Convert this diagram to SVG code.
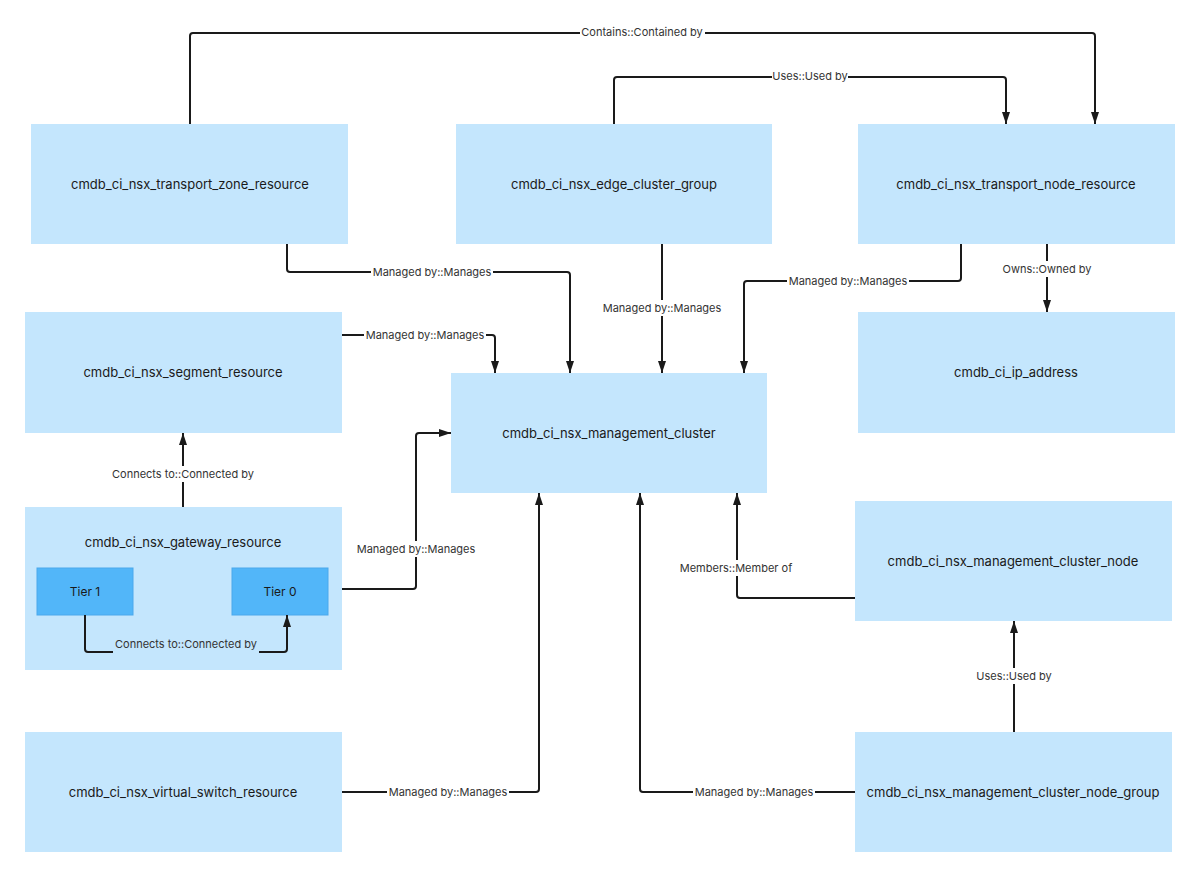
<svg xmlns="http://www.w3.org/2000/svg" width="1200" height="878" viewBox="0 0 1200 878">
<style>
.n{fill:#c4e6fd}
.t{fill:#52b6f9;stroke:#4aa8ec;stroke-width:1}
.nt{font-family:Inter,"Noto Sans",sans-serif;font-size:13px;fill:#1a1a1a;text-anchor:middle;dominant-baseline:central}
.c{fill:none;stroke:#1a1a1a;stroke-width:2;stroke-linejoin:round}
.lb{fill:#fff}
.lt{font-family:Inter,"Noto Sans",sans-serif;font-size:11px;fill:#333;text-anchor:middle;dominant-baseline:central}
</style>
<defs>
<marker id="a" viewBox="0 0 12 8" refX="12" refY="4" markerWidth="12" markerHeight="8" markerUnits="userSpaceOnUse" orient="auto"><path d="M0,0 L12,4 L0,8 z" fill="#1a1a1a"/></marker>
</defs>
<rect width="1200" height="878" fill="#fff"/>
<g id="n-transport-zone"><rect class="n" x="31" y="124" width="317" height="120"/><text class="nt" x="190" y="184">cmdb_ci_nsx_transport_zone_resource</text></g>
<g id="n-edge-cluster"><rect class="n" x="456" y="124" width="316" height="120"/><text class="nt" x="614" y="184">cmdb_ci_nsx_edge_cluster_group</text></g>
<g id="n-transport-node"><rect class="n" x="858" y="124" width="317" height="120"/><text class="nt" x="1016" y="184">cmdb_ci_nsx_transport_node_resource</text></g>
<g id="n-segment"><rect class="n" x="25" y="312" width="317" height="121"/><text class="nt" x="183" y="372">cmdb_ci_nsx_segment_resource</text></g>
<g id="n-mgmt-cluster"><rect class="n" x="451" y="373" width="316" height="120"/><text class="nt" x="609" y="433">cmdb_ci_nsx_management_cluster</text></g>
<g id="n-ip"><rect class="n" x="858" y="312" width="317" height="121"/><text class="nt" x="1016" y="372">cmdb_ci_ip_address</text></g>
<g id="n-gateway"><rect class="n" x="25" y="507" width="317" height="163"/><text class="nt" x="183" y="542">cmdb_ci_nsx_gateway_resource</text>
<g id="n-tier1"><rect class="t" x="37" y="568" width="96" height="47"/><text class="nt" x="85" y="591" style="font-size:12px">Tier 1</text></g>
<g id="n-tier0"><rect class="t" x="232" y="568" width="96" height="47"/><text class="nt" x="280" y="591" style="font-size:12px">Tier 0</text></g>
</g>
<g id="n-mgmt-node"><rect class="n" x="855" y="501" width="317" height="120"/><text class="nt" x="1013" y="561">cmdb_ci_nsx_management_cluster_node</text></g>
<g id="n-vswitch"><rect class="n" x="25" y="732" width="317" height="120"/><text class="nt" x="183" y="792">cmdb_ci_nsx_virtual_switch_resource</text></g>
<g id="n-mgmt-node-group"><rect class="n" x="855" y="732" width="317" height="120"/><text class="nt" x="1013" y="792">cmdb_ci_nsx_management_cluster_node_group</text></g>
<g id="connectors">
<path class="c" marker-end="url(#a)" d="M190,124 V36 Q190,33 193,33 H1092 Q1095,33 1095,36 V124"/>
<path class="c" marker-end="url(#a)" d="M614,124 V80 Q614,77 617,77 H1003 Q1006,77 1006,80 V124"/>
<path class="c" marker-end="url(#a)" d="M287,244 V269 Q287,272 290,272 H567 Q570,272 570,275 V373"/>
<path class="c" marker-end="url(#a)" d="M662,244 V373"/>
<path class="c" marker-end="url(#a)" d="M961,244 V278 Q961,281 958,281 H747 Q744,281 744,284 V373"/>
<path class="c" marker-end="url(#a)" d="M1047,244 V312"/>
<path class="c" marker-end="url(#a)" d="M342,335 H492 Q495,335 495,338 V373"/>
<path class="c" marker-end="url(#a)" d="M183,507 V433"/>
<path class="c" marker-end="url(#a)" d="M342,589 H413 Q416,589 416,586 V436 Q416,433 419,433 H451"/>
<path class="c" marker-end="url(#a)" d="M85,615 V649 Q85,652 88,652 H284 Q287,652 287,649 V615"/>
<path class="c" marker-end="url(#a)" d="M855,598 H740 Q737,598 737,595 V493"/>
<path class="c" marker-end="url(#a)" d="M1014,732 V621"/>
<path class="c" marker-end="url(#a)" d="M342,792 H536 Q539,792 539,789 V493"/>
<path class="c" marker-end="url(#a)" d="M855,792 H643 Q640,792 640,789 V493"/>
<g id="labels">
<rect class="lb" x="580" y="25" width="125" height="16"/><text class="lt" x="642" y="32">Contains::Contained by</text>
<rect class="lb" x="772" y="69" width="76" height="16"/><text class="lt" x="810" y="76">Uses::Used by</text>
<rect class="lb" x="371" y="264" width="122" height="16"/><text class="lt" x="432" y="272">Managed by::Manages</text>
<rect class="lb" x="601" y="300" width="122" height="16"/><text class="lt" x="662" y="308">Managed by::Manages</text>
<rect class="lb" x="787" y="273" width="122" height="16"/><text class="lt" x="848" y="281">Managed by::Manages</text>
<rect class="lb" x="1001" y="261" width="92" height="16"/><text class="lt" x="1047" y="269">Owns::Owned by</text>
<rect class="lb" x="364" y="327" width="122" height="16"/><text class="lt" x="425" y="335">Managed by::Manages</text>
<rect class="lb" x="110" y="466" width="146" height="16"/><text class="lt" x="183" y="474">Connects to::Connected by</text>
<rect class="lb" x="355" y="541" width="122" height="16"/><text class="lt" x="416" y="549">Managed by::Manages</text>
<rect class="n" x="113" y="636" width="146" height="20"/><text class="lt" x="186" y="644">Connects to::Connected by</text>
<rect class="lb" x="678" y="560" width="116" height="16"/><text class="lt" x="736" y="568">Members::Member of</text>
<rect class="lb" x="975" y="668" width="78" height="16"/><text class="lt" x="1014" y="676">Uses::Used by</text>
<rect class="lb" x="387" y="784" width="122" height="16"/><text class="lt" x="448" y="792">Managed by::Manages</text>
<rect class="lb" x="693" y="784" width="122" height="16"/><text class="lt" x="754" y="792">Managed by::Manages</text>
</g>
</g>
</svg>
